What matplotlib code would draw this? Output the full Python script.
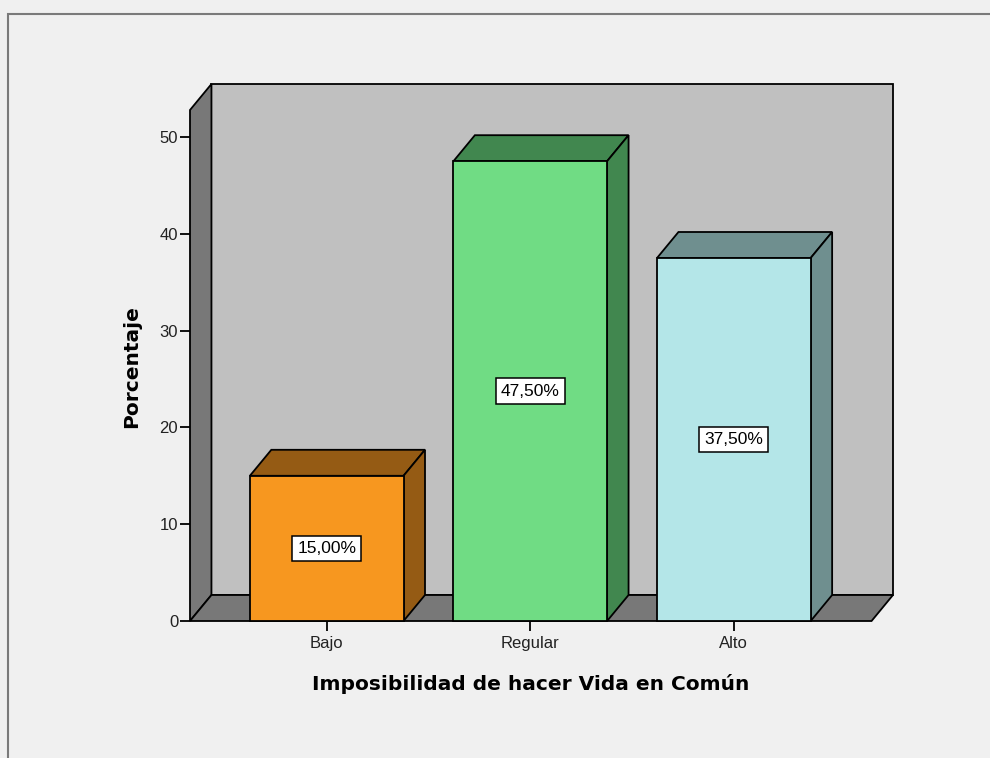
import matplotlib
matplotlib.use("Agg")
import matplotlib.pyplot as plt
from matplotlib.patches import Polygon, Rectangle

# Data
categories = ['Bajo', 'Regular', 'Alto']
percent = [15.00, 47.50, 37.50]
value_labels = ['15,00%', '47,50%', '37,50%']
front_colors = ['#f7971f', '#70dc84', '#b4e6e8']
shade_colors = ['#955b14', '#41874f', '#6f8f8f']

W, H = 990, 758
fig = plt.figure(figsize=(W / 100, H / 100), dpi=100, facecolor='#f0f0f0')

# outer frame
fig.add_artist(Rectangle((8 / W, -0.05), 1.1, 1 - 14 / H + 0.05, transform=fig.transFigure,
                         fill=False, edgecolor='#7a7a7a', linewidth=1.5))

# axes covering the floor front + depth area (pixels: x 190..893, y 84..621)
ax = fig.add_axes([190 / W, (H - 621) / H, (893 - 190) / W, (621 - 84) / H])
ax.set_facecolor('none')

px_per_cat = 204.0
px_per_unit = 9.68
x0 = -(327 - 190) / px_per_cat          # floor front left
x1 = (873 - 327) / px_per_cat           # floor front right
dx = 21.5 / px_per_cat                  # depth offset
dy = 26 / px_per_unit
wall_top = (621 - 110) / px_per_unit
half = 77 / px_per_cat

ax.set_xlim(x0, x1 + dx)
ax.set_ylim(0, wall_top + dy)

edge = dict(edgecolor='black', linewidth=1.3, joinstyle='miter')
dark = '#787878'

# back wall
ax.add_patch(Polygon([(x0 + dx, dy), (x1 + dx, dy), (x1 + dx, wall_top + dy), (x0 + dx, wall_top + dy)],
                     closed=True, facecolor='#c0c0c0', clip_on=False, **edge))
# left wall
ax.add_patch(Polygon([(x0, 0), (x0, wall_top), (x0 + dx, wall_top + dy), (x0 + dx, dy)],
                     closed=True, facecolor=dark, clip_on=False, **edge))
# floor
ax.add_patch(Polygon([(x0, 0), (x1, 0), (x1 + dx, dy), (x0 + dx, dy)],
                     closed=True, facecolor=dark, clip_on=False, **edge))

# bars
for i, (v, fc, sc, lab) in enumerate(zip(percent, front_colors, shade_colors, value_labels)):
    l, r = i - half, i + half
    ax.add_patch(Polygon([(l, v), (r, v), (r + dx, v + dy), (l + dx, v + dy)],
                         closed=True, facecolor=sc, clip_on=False, **edge))
    ax.add_patch(Polygon([(r, 0), (r, v), (r + dx, v + dy), (r + dx, dy)],
                         closed=True, facecolor=sc, clip_on=False, **edge))
    ax.add_patch(Polygon([(l, 0), (r, 0), (r, v), (l, v)],
                         closed=True, facecolor=fc, clip_on=False, **edge))
    ax.text(i, v / 2, lab, ha='center', va='center', fontsize=12.5, family='Liberation Sans',
            bbox=dict(boxstyle='square,pad=0.3', facecolor='white', edgecolor='black', linewidth=1.1))

for s in ax.spines.values():
    s.set_visible(False)

ax.set_yticks([0, 10, 20, 30, 40, 50])
ax.set_xticks(range(len(categories)))
ax.set_xticklabels(categories)
ax.tick_params(axis='y', length=7, width=1.3, pad=1.5, labelsize=12)
ax.tick_params(axis='x', length=7, width=1.3, pad=4, labelsize=12)
for t in ax.get_xticklabels() + ax.get_yticklabels():
    t.set_family('Liberation Sans')
    t.set_color('#222222')

fig.text(132 / W, 1 - 367 / H, 'Porcentaje', rotation=90, ha='center', va='center',
         fontsize=14.5, fontweight='bold', family='DejaVu Sans')
fig.text(531 / W, 1 - 684 / H, 'Imposibilidad de hacer Vida en Común', ha='center', va='center',
         fontsize=14.5, fontweight='bold', family='DejaVu Sans')

fig.savefig('out.png', dpi=100, facecolor=fig.get_facecolor())
